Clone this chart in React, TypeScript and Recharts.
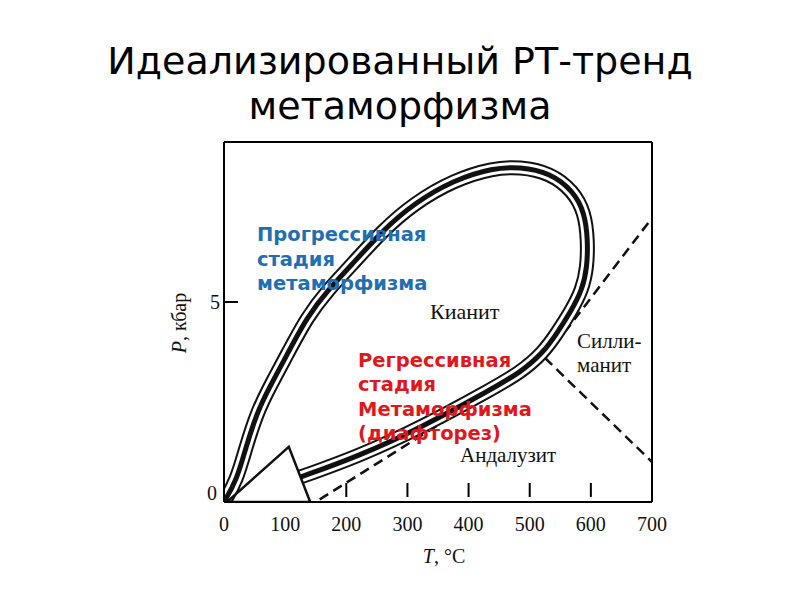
import React from "react"
import {
  LineChart,
  Line,
  XAxis,
  YAxis,
  ReferenceLine,
} from "recharts"

// ── PT loop (T in °C, P in kbar) ─────────────────────────────────────────────
const loopT = [0, 21, 36, 54, 72, 103, 136, 170, 206, 260, 312, 376, 440, 484, 533, 571, 590, 595, 594, 586, 566, 545, 522, 484, 435, 325, 218, 126]
const loopP = [0, 0.55, 1.38, 2.23, 2.8, 3.68, 4.63, 5.3, 5.88, 6.8, 7.48, 8.05, 8.35, 8.38, 8.23, 7.78, 7.23, 6.55, 5.88, 5.3, 4.73, 4.23, 3.73, 3.23, 2.8, 1.88, 1.13, 0.63]

// arrow head at the end of the retrograde path
const arrowT = [5, 106, 141, 5]
const arrowP = [0, 1.38, 0, 0]

// Al2SiO5 phase boundaries from the triple point
const kySilT = [525, 700]
const kySilP = [3.6, 7.1]
const andSilT = [525, 700]
const andSilP = [3.6, 1.0]
const kyAndT = [525, 155]
const kyAndP = [3.6, 0.05]

const xTicks = [0, 100, 200, 300, 400, 500, 600, 700]
const yTicks = [0, 5]
const innerTicks = [200, 300, 400, 500, 600]

const zip = (t: number[], p: number[]) => t.map((v, i) => ({ t: v, p: p[i] }))

const loop = zip(loopT, loopP)
const arrow = zip(arrowT, arrowP)
const kySil = zip(kySilT, kySilP)
const andSil = zip(andSilT, andSilP)
const kyAnd = zip(kyAndT, kyAndP)

const serif = "'Liberation Serif', 'Times New Roman', serif"
const sans = "'DejaVu Sans', Verdana, sans-serif"

function XTick({ x, y, payload }: any) {
  const v = payload.value
  return (
    <g>
      {innerTicks.includes(v) && (
        <line x1={x} x2={x} y1={y - 19} y2={y - 5} stroke="#000" strokeWidth={2} />
      )}
      <text x={x} y={y + 29} textAnchor="middle" fontFamily={serif} fontSize={20} fill="#111">
        {v}
      </text>
    </g>
  )
}

function YTick({ x, y, payload }: any) {
  const v = payload.value
  if (v === 0) {
    return (
      <text x={x - 7} y={y - 2} textAnchor="end" fontFamily={serif} fontSize={20} fill="#111">
        0
      </text>
    )
  }
  return (
    <g>
      <line x1={x} x2={x + 14} y1={y} y2={y} stroke="#000" strokeWidth={2} />
      <text x={x - 4} y={y + 7} textAnchor="end" fontFamily={serif} fontSize={20} fill="#111">
        {v}
      </text>
    </g>
  )
}

export default function App() {
  const band = { dot: false, activeDot: false, isAnimationActive: false, type: "basis" as const, dataKey: "p", data: loop }
  const dash = { dot: false, activeDot: false, isAnimationActive: false, type: "linear" as const, dataKey: "p", stroke: "#111", strokeWidth: 2.5, strokeDasharray: "10 6" }
  return (
    <div style={{ position: "absolute", left: 0, top: 0, width: 800, height: 600, background: "#fff" }}>
      <LineChart width={800} height={600} margin={{ top: 142, right: 148, bottom: 58, left: 184 }}>
        <XAxis
          type="number"
          dataKey="t"
          domain={[0, 700]}
          ticks={xTicks}
          allowDataOverflow
          height={40}
          tickSize={0}
          tickMargin={0}
          tickLine={false}
          axisLine={{ stroke: "#000", strokeWidth: 2 }}
          tick={<XTick />}
        />
        <YAxis
          type="number"
          domain={[0, 9]}
          ticks={yTicks}
          allowDataOverflow
          width={40}
          tickSize={0}
          tickMargin={0}
          tickLine={false}
          axisLine={{ stroke: "#000", strokeWidth: 2 }}
          tick={<YTick />}
        />
        <ReferenceLine y={9} stroke="#000" strokeWidth={2} />
        <ReferenceLine x={700} stroke="#000" strokeWidth={2} />

        <Line {...dash} data={kySil} />
        <Line {...dash} data={andSil} />
        <Line {...dash} data={kyAnd} />

        <Line {...band} stroke="#111" strokeWidth={15} />
        <Line {...band} stroke="#fff" strokeWidth={11} />
        <Line {...band} stroke="#111" strokeWidth={5} />

        <Line data={arrow} dataKey="p" type="linear" stroke="#111" strokeWidth={2.5} dot={false} activeDot={false} isAnimationActive={false} />
      </LineChart>

      <svg width={800} height={600} style={{ position: "absolute", left: 0, top: 0, pointerEvents: "none" }}>
        <text x={400} y={74} textAnchor="middle" fontFamily={sans} fontSize={38} fill="#000">
          Идеализированный РТ-тренд
        </text>
        <text x={400} y={119} textAnchor="middle" fontFamily={sans} fontSize={38} fill="#000">
          метаморфизма
        </text>

        <g fontFamily={sans} fontSize={19.5} fontWeight="bold" fill="#1f6fb2">
          <text x={257} y={241}>Прогрессивная</text>
          <text x={257} y={266}>стадия</text>
          <text x={257} y={290}>метаморфизма</text>
        </g>

        <g fontFamily={serif} fontSize={21} fill="#111">
          <text x={430} y={319} fontSize={22}>Кианит</text>
          <text x={577} y={348}>Силли-</text>
          <text x={577} y={372}>манит</text>
          <text x={460} y={462}>Андалузит</text>
        </g>

        <g fontFamily={sans} fontSize={19.5} fontWeight="bold" fill="#e0181e">
          <text x={358} y={367}>Регрессивная</text>
          <text x={358} y={391}>стадия</text>
          <text x={358} y={416}>Метаморфизма</text>
          <text x={358} y={440}>(диафторез)</text>
        </g>

        <text x={186} y={323} textAnchor="middle" fontFamily={serif} fontSize={20} fill="#111" transform="rotate(-90 186 323)">
          <tspan fontStyle="italic">P</tspan>, кбар
        </text>
        <text x={444} y={563} textAnchor="middle" fontFamily={serif} fontSize={20} fill="#111">
          <tspan fontStyle="italic">T</tspan>, °C
        </text>
      </svg>
    </div>
  )
}
